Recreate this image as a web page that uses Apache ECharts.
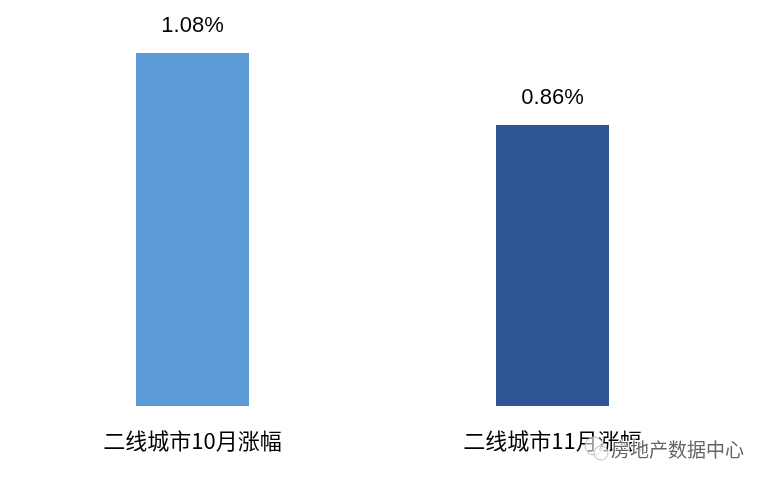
<!DOCTYPE html>
<html><head><meta charset="utf-8">
<style>html,body{margin:0;padding:0;background:#fff}#c{width:767px;height:482px}</style>
<script src="https://cdn.jsdelivr.net/npm/echarts@6/dist/echarts.min.js"></script>
</head><body><div id="c"></div>
<script>
const categories = ['二线城市10月涨幅','二线城市11月涨幅'];
const values = [1.08,0.86];
const colors = ['#5B9BD5','#2F5597'];
const watermark = '房地产数据中心';
const chart = echarts.init(document.getElementById('c'));
const font = '"Noto Sans CJK SC","Liberation Sans",sans-serif';
chart.setOption({
  animation:false,
  grid:{left:12.5,right:34.5,top:53,bottom:76,containLabel:false},
  xAxis:{type:'category',data:categories,axisLine:{show:false},axisTick:{show:false},
    axisLabel:{color:'#000',fontSize:22,fontFamily:font,margin:24}},
  yAxis:{type:'value',min:0,max:1.08,show:false,splitLine:{show:false}},
  series:[{type:'bar',barWidth:113,
    data:values.map((v,i)=>({value:v,itemStyle:{color:colors[i]}})),
    label:{show:true,position:'top',distance:16,color:'#000',fontSize:22,fontFamily:'"Liberation Sans",sans-serif',
      formatter:p=>p.value.toFixed(2)+'%'}}],
  graphic:[
    {type:'circle',shape:{cx:594,cy:446,r:9},style:{fill:'rgba(255,255,255,0.6)',stroke:'#bbb',lineWidth:1},z:10},
    {type:'circle',shape:{cx:601,cy:453,r:7},style:{fill:'rgba(255,255,255,0.6)',stroke:'#bbb',lineWidth:1},z:10},
    {type:'text',left:610,top:439,z:11,style:{text:watermark,fill:'#666',font:'19px '+font,stroke:'#fff',lineWidth:2}}
  ]
});
</script></body></html>
